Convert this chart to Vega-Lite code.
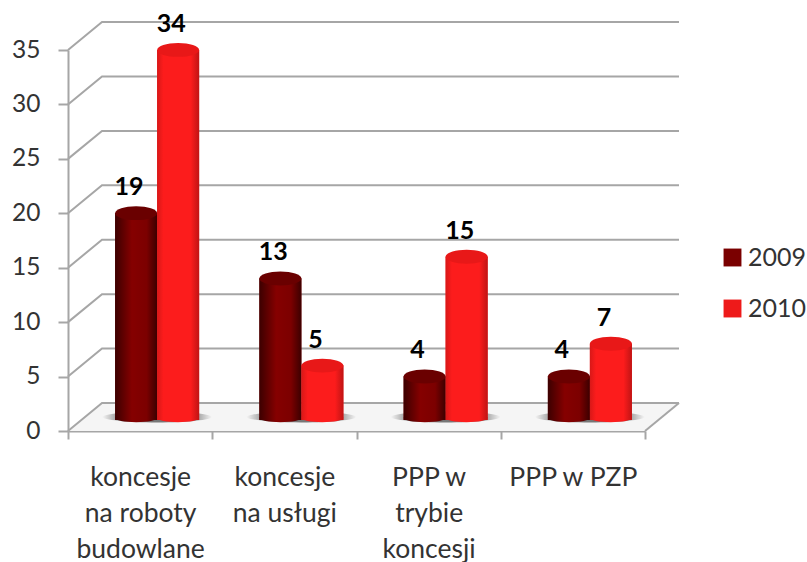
{
"$schema":"https://vega.github.io/schema/vega-lite/v6.json",
"width":577,"height":381,"autosize":"none",
"padding":{"left":68,"top":50,"right":162,"bottom":131},
"background":"white",
"datasets":{
"bars":[
{"cat":"koncesje|na roboty|budowlane","series":"2009","value":19},
{"cat":"koncesje|na roboty|budowlane","series":"2010","value":34},
{"cat":"koncesje|na usługi","series":"2009","value":13},
{"cat":"koncesje|na usługi","series":"2010","value":5},
{"cat":"PPP w|trybie|koncesji","series":"2009","value":4},
{"cat":"PPP w|trybie|koncesji","series":"2010","value":15},
{"cat":"PPP w PZP","series":"2009","value":4},
{"cat":"PPP w PZP","series":"2010","value":7}],
"floor":[{"px":0,"lo":0,"hi":0},{"px":34,"lo":0,"hi":2.57},{"px":577,"lo":0,"hi":2.57},{"px":611,"lo":2.57,"hi":2.57}],
"grid":[
{"g":0,"px":0,"v":0},{"g":0,"px":34,"v":2.57},{"g":0,"px":611,"v":2.57},
{"g":-1,"px":577,"v":0},{"g":-1,"px":611,"v":2.57},
{"g":5,"px":0,"v":5},{"g":5,"px":34,"v":7.57},{"g":5,"px":611,"v":7.57},
{"g":10,"px":0,"v":10},{"g":10,"px":34,"v":12.57},{"g":10,"px":611,"v":12.57},
{"g":15,"px":0,"v":15},{"g":15,"px":34,"v":17.57},{"g":15,"px":611,"v":17.57},
{"g":20,"px":0,"v":20},{"g":20,"px":34,"v":22.57},{"g":20,"px":611,"v":22.57},
{"g":25,"px":0,"v":25},{"g":25,"px":34,"v":27.57},{"g":25,"px":611,"v":27.57},
{"g":30,"px":0,"v":30},{"g":30,"px":34,"v":32.57},{"g":30,"px":611,"v":32.57},
{"g":35,"px":0,"v":35},{"g":35,"px":34,"v":37.57},{"g":35,"px":611,"v":37.57}],
"shadow":[
{"cat":"koncesje|na roboty|budowlane","zero":0},{"cat":"koncesje|na usługi","zero":0},{"cat":"PPP w|trybie|koncesji","zero":0},{"cat":"PPP w PZP","zero":0}]
},
"config":{"view":{"stroke":null},"font":"Lato"},
"resolve":{"scale":{"x":"independent"}},
"layer":[
{"data":{"name":"floor"},"mark":{"type":"area","color":"#f5f5f5"},
 "encoding":{"x":{"field":"px","type":"quantitative","scale":{"domain":[0,577],"nice":false,"zero":false},"axis":null},
 "y":{"field":"lo","type":"quantitative","stack":null,"scale":{"domain":[0,35],"nice":false},"axis":{"values":[0,5,10,15,20,25,30,35],"grid":false,"title":null,"domainColor":"#a6a6a6","domainWidth":2,"tickColor":"#a6a6a6","tickWidth":2,"tickSize":10,"labelPadding":18,"labelFontSize":24.5,"labelColor":"#333333","labelFont":"Lato"}},
 "y2":{"field":"hi"}}},
{"data":{"name":"grid"},"mark":{"type":"line","color":"#a6a6a6","strokeWidth":2},
 "encoding":{"x":{"field":"px","type":"quantitative","scale":{"domain":[0,577],"nice":false,"zero":false},"axis":null},
 "y":{"field":"v","type":"quantitative"},"detail":{"field":"g"}}},
{"data":{"name":"shadow"},"mark":{"type":"point","filled":true,"opacity":1,"shape":"M-1,0 C-1,-.05 -.55,-.1 0,-.1 C.55,-.1 1,-.05 1,0 C1,.05 .55,.1 0,.1 C-.55,.1 -1,.05 -1,0 Z","size":12000,"xOffset":17,"yOffset":-14,"color":{"gradient":"radial","x1":0.5,"y1":0.5,"x2":0.5,"y2":0.5,"r1":0.3,"r2":0.5,"stops":[{"offset":0,"color":"#777777"},{"offset":1,"color":"#f5f5f5"}]}},
 "encoding":{"x":{"field":"cat","type":"nominal","sort":null,"scale":{"paddingInner":0,"paddingOuter":0},"axis":{"title":null,"bandPosition":0,"tickBand":"extent","labelExpr":"split(datum.label,'|')","labelAngle":0,"labelFontSize":26.5,"labelColor":"#333333","labelFont":"Lato","labelLineHeight":36,"labelPadding":25,"labelBaseline":"top","domainColor":"#a6a6a6","domainWidth":2,"tickColor":"#a6a6a6","tickWidth":2,"tickSize":8,"labelLimit":200,"grid":false}},
 "y":{"field":"zero","type":"quantitative"}}},

{"data":{"name":"bars"},"mark":{"type":"bar","yOffset":-11,"y2Offset":-13},
 "encoding":{"x":{"field":"cat","type":"nominal","sort":null,"scale":{"paddingInner":0,"paddingOuter":0,"range":[17,594]},"axis":null},"xOffset":{"field":"series","scale":{"domain":["2009","2010"],"paddingOuter":0.717,"paddingInner":0}},"y":{"field":"value","type":"quantitative"},
 "color":{"field":"series","type":"nominal","scale":{"domain":["2009","2010"],"range":["#7a0000","#ee1a1a"]},
 "legend":{"title":null,"orient":"none","legendX":652,"legendY":195,"symbolType":"square","symbolSize":320,"symbolStrokeWidth":0,"labelFontSize":25,"labelColor":"#333333","labelFont":"Lato","rowPadding":25,"labelOffset":3}}}},

{"data":{"name":"bars"},"transform":[{"filter":"datum.series=='2009'"}],"mark":{"type":"point","filled":true,"opacity":1,"shape":"M-1,0 C-1,-.11 -.55,-.2 0,-.2 C.55,-.2 1,-.11 1,0 C1,.11 .55,.2 0,.2 C-.55,.2 -1,.11 -1,0 Z","size":1764,"yOffset":-13,"color":{"gradient":"linear","x1":0,"x2":1,"y1":0,"y2":0,"stops":[{"offset":0,"color":"#3c0000"},{"offset":0.4,"color":"#850000"},{"offset":0.75,"color":"#7c0000"},{"offset":1,"color":"#3c0000"}]}},
 "encoding":{"x":{"field":"cat","type":"nominal","sort":null,"scale":{"paddingInner":0,"paddingOuter":0,"range":[17,594]},"axis":null},"xOffset":{"field":"series","scale":{"domain":["2009","2010"],"paddingOuter":0.717,"paddingInner":0}},"y":{"datum":0,"type":"quantitative"}}},
{"data":{"name":"bars"},"transform":[{"filter":"datum.series=='2009'"}],"mark":{"type":"bar","yOffset":-11,"y2Offset":-13,"color":{"gradient":"linear","x1":0,"x2":1,"y1":0,"y2":0,"stops":[{"offset":0,"color":"#3c0000"},{"offset":0.4,"color":"#850000"},{"offset":0.75,"color":"#7c0000"},{"offset":1,"color":"#3c0000"}]}},
 "encoding":{"x":{"field":"cat","type":"nominal","sort":null,"scale":{"paddingInner":0,"paddingOuter":0,"range":[17,594]},"axis":null},"xOffset":{"field":"series","scale":{"domain":["2009","2010"],"paddingOuter":0.717,"paddingInner":0}},"y":{"field":"value","type":"quantitative"}}},
{"data":{"name":"bars"},"transform":[{"filter":"datum.series=='2009'"}],"mark":{"type":"point","filled":true,"opacity":1,"shape":"M-1,0 C-1,-.18 -.55,-.33 0,-.33 C.55,-.33 1,-.18 1,0 C1,.18 .55,.33 0,.33 C-.55,.33 -1,.18 -1,0 Z","size":1764,"yOffset":-11,"color":"#6a0000"},
 "encoding":{"x":{"field":"cat","type":"nominal","sort":null,"scale":{"paddingInner":0,"paddingOuter":0,"range":[17,594]},"axis":null},"xOffset":{"field":"series","scale":{"domain":["2009","2010"],"paddingOuter":0.717,"paddingInner":0}},"y":{"field":"value","type":"quantitative"}}},

{"data":{"name":"bars"},"transform":[{"filter":"datum.series=='2010'"}],"mark":{"type":"point","filled":true,"opacity":1,"shape":"M-1,0 C-1,-.11 -.55,-.2 0,-.2 C.55,-.2 1,-.11 1,0 C1,.11 .55,.2 0,.2 C-.55,.2 -1,.11 -1,0 Z","size":1764,"yOffset":-13,"color":{"gradient":"linear","x1":0,"x2":1,"y1":0,"y2":0,"stops":[{"offset":0,"color":"#d81818"},{"offset":0.15,"color":"#fc1c1c"},{"offset":0.8,"color":"#fc1c1c"},{"offset":1,"color":"#c01414"}]}},
 "encoding":{"x":{"field":"cat","type":"nominal","sort":null,"scale":{"paddingInner":0,"paddingOuter":0,"range":[17,594]},"axis":null},"xOffset":{"field":"series","scale":{"domain":["2009","2010"],"paddingOuter":0.717,"paddingInner":0}},"y":{"datum":0,"type":"quantitative"}}},
{"data":{"name":"bars"},"transform":[{"filter":"datum.series=='2010'"}],"mark":{"type":"bar","yOffset":-11,"y2Offset":-13,"color":{"gradient":"linear","x1":0,"x2":1,"y1":0,"y2":0,"stops":[{"offset":0,"color":"#d81818"},{"offset":0.15,"color":"#fc1c1c"},{"offset":0.8,"color":"#fc1c1c"},{"offset":1,"color":"#c01414"}]}},
 "encoding":{"x":{"field":"cat","type":"nominal","sort":null,"scale":{"paddingInner":0,"paddingOuter":0,"range":[17,594]},"axis":null},"xOffset":{"field":"series","scale":{"domain":["2009","2010"],"paddingOuter":0.717,"paddingInner":0}},"y":{"field":"value","type":"quantitative"}}},
{"data":{"name":"bars"},"transform":[{"filter":"datum.series=='2010'"}],"mark":{"type":"point","filled":true,"opacity":1,"shape":"M-1,0 C-1,-.18 -.55,-.33 0,-.33 C.55,-.33 1,-.18 1,0 C1,.18 .55,.33 0,.33 C-.55,.33 -1,.18 -1,0 Z","size":1764,"yOffset":-11,"color":"#e81818"},
 "encoding":{"x":{"field":"cat","type":"nominal","sort":null,"scale":{"paddingInner":0,"paddingOuter":0,"range":[17,594]},"axis":null},"xOffset":{"field":"series","scale":{"domain":["2009","2010"],"paddingOuter":0.717,"paddingInner":0}},"y":{"field":"value","type":"quantitative"}}},

{"data":{"name":"bars"},"mark":{"type":"text","font":"Lato","fontWeight":"bold","fontSize":25,"color":"#000000","yOffset":-37},
 "encoding":{"x":{"field":"cat","type":"nominal","sort":null,"scale":{"paddingInner":0,"paddingOuter":0,"range":[10,587]},"axis":null},"xOffset":{"field":"series","scale":{"domain":["2009","2010"],"paddingOuter":0.717,"paddingInner":0}},"y":{"field":"value","type":"quantitative"},"text":{"field":"value","type":"quantitative"}}}
]}
